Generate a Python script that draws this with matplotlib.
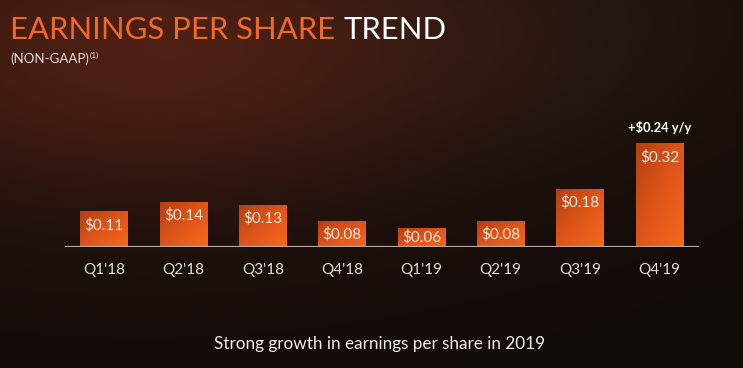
#!/usr/bin/env python3

import numpy as np
import matplotlib
matplotlib.use("Agg")
import matplotlib.pyplot as plt
from matplotlib.colors import LinearSegmentedColormap


# Data

QUARTERS = ["Q1'18", "Q2'18", "Q3'18", "Q4'18", "Q1'19", "Q2'19", "Q3'19", "Q4'19"]
EPS = [0.11, 0.14, 0.13, 0.08, 0.06, 0.08, 0.18, 0.32]
EPS_LABELS = ["$0.11", "$0.14", "$0.13", "$0.08", "$0.06", "$0.08", "$0.18", "$0.32"]
CALLOUT = "+$0.24 y/y"


# Style

FONT = "Lato"
ORANGE = "#f26522"
LABEL_COLOR = "#f6e9dc"
TICK_COLOR = "#e4e0dc"
W, H = 743, 368

plt.rcParams["font.family"] = [FONT, "DejaVu Sans"]


def background():
    # dark backdrop with a warm glow in the upper left
    yy, xx = np.mgrid[0:H, 0:W]
    base = np.array([0.072, 0.048, 0.036])
    glow = np.array([0.23, 0.075, 0.045])
    g1 = np.exp(-(((xx - 140) / 340.0) ** 2 + ((yy - 50) / 160.0) ** 2))
    g2 = np.exp(-(((xx - 560) / 260.0) ** 2 + ((yy - 20) / 140.0) ** 2))
    img = base + g1[..., None] * glow + g2[..., None] * np.array([0.04, 0.03, 0.02])
    return np.clip(img, 0, 1)


def main():
    fig = plt.figure(figsize=(W / 100, H / 100), dpi=100)

    bg_ax = fig.add_axes([0, 0, 1, 1])
    bg_ax.imshow(background(), aspect="auto", interpolation="bilinear")
    bg_ax.axis("off")

    # chart area: baseline at 247 px, bars ~79 px apart
    ax = fig.add_axes([64.5 / W, 121 / H, 634.5 / W, 130 / H])
    ax.set_facecolor("none")
    x = np.arange(len(QUARTERS))
    bars = ax.bar(x, EPS, width=0.6, color=ORANGE, zorder=2)

    bar_cmap = LinearSegmentedColormap.from_list("bar", ["#b63f10", "#de551a", "#f7681c"])
    grad = np.add.outer(np.linspace(0, 1, 50), np.linspace(0, 1, 50)) / 2
    for rect in bars:
        x0, y0 = rect.get_x(), rect.get_y()
        im = ax.imshow(grad, cmap=bar_cmap, aspect="auto", zorder=3,
                       extent=[x0, x0 + rect.get_width(), y0, y0 + rect.get_height()],
                       origin="upper")
        im.set_clip_path(rect)

    for xi, v, lab in zip(x, EPS, EPS_LABELS):
        yl = v - 0.043 if v > 0.09 else v / 2
        ax.text(xi, yl, lab, ha="center", va="center", color=LABEL_COLOR,
                fontsize=11, zorder=4)

    ax.text(x[-1], 0.369, CALLOUT, ha="center", va="center", color="white",
            fontsize=9.3, fontweight="bold")

    ax.set_xlim(-0.5, 7.5)
    ax.set_ylim(0, 0.4)
    ax.axhline(0, color="#b0aaa6", lw=1.6, zorder=5)
    for s in ax.spines.values():
        s.set_visible(False)
    ax.set_yticks([])
    ax.set_xticks(x)
    ax.set_xticklabels(QUARTERS, fontsize=11, color=TICK_COLOR)
    ax.tick_params(axis="x", length=0, pad=11.5)

    # title in two colours
    t1 = fig.text(10 / W, 1 - 39 / H, "EARNINGS PER SHARE ", color="#f06a25",
                  fontsize=22.3, va="baseline", ha="left")
    fig.canvas.draw()
    ext = t1.get_window_extent()
    fig.text(ext.x1 / W, 1 - 39 / H, "TREND", color="white",
             fontsize=22.3, va="baseline", ha="left")

    t2 = fig.text(10 / W, 1 - 63 / H, "(NON-GAAP)", color="#e8e2de",
                  fontsize=9.5, va="baseline", ha="left")
    fig.canvas.draw()
    ext2 = t2.get_window_extent()
    fig.text(ext2.x1 / W + 0.001, 1 - 58 / H, "(1)", color="#e8e2de",
             fontsize=6, va="baseline", ha="left")

    fig.text(380 / W, 1 - 349 / H, "Strong growth in earnings per share in 2019",
             color="#f2eeea", fontsize=12.3, va="baseline", ha="center")

    fig.savefig("out.png", dpi=100, facecolor="black")
    plt.close(fig)


if __name__ == "__main__":
    main()
